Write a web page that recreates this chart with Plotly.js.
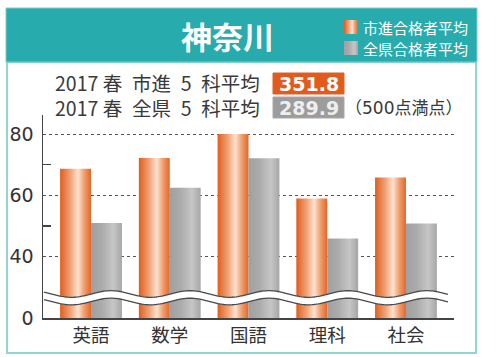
<!DOCTYPE html>
<html>
<head>
<meta charset="utf-8">
<script src="https://cdn.plot.ly/plotly-3.0.1.min.js"></script>
<style>
html,body{margin:0;padding:0;background:#fff;}
#chart{width:500px;height:357px;}
</style>
</head>
<body>
<div id="chart"></div>
<script>
// ---- data ----
var categories = ['英語', '数学', '国語', '理科', '社会'];
var shishinAvg = [68.7, 72.2, 80.0, 59.0, 65.8];   // 市進合格者平均
var zenkenAvg  = [51.0, 62.5, 72.1, 45.9, 50.8];   // 全県合格者平均
var seriesNames = ['市進合格者平均', '全県合格者平均'];
var yTickVals = [20, 40, 60, 80];
var yTickText = ['0', '40', '60', '80'];
var minorTickVals = [50, 70];
var titleText = '神奈川';
var totalLabels = ['2017 春\u2002市進\u20025\u2002科平均', '2017 春\u2002全県\u20025\u2002科平均'];
var totalValues = ['351.8', '289.9'];
var fullScore = '（500点満点）';

// ---- geometry helpers (pixel -> paper) ----
var L = 43, R = 454, T = 115, B = 318, W = 500, H = 357;
function px(x) { return (x - L) / (R - L); }
function py(y) { return (B - y) / (B - T); }

var JP = '"Noto Sans CJK JP", "Noto Sans", sans-serif';
var MIX = '"DejaVu Sans", "Noto Sans CJK JP", sans-serif';
var TXT = '#3a3a3a';

var traces = [
  {type: 'bar', x: categories, y: shishinAvg, name: seriesNames[0],
   marker: {color: '#ec7a3c', line: {width: 0}}, showlegend: false, hoverinfo: 'skip'},
  {type: 'bar', x: categories, y: zenkenAvg, name: seriesNames[1],
   marker: {color: '#b2b2b2', line: {width: 0}}, showlegend: false, hoverinfo: 'skip'}
];

var shapes = [];
// body frame
shapes.push({type: 'rect', xref: 'paper', yref: 'paper', layer: 'below',
  x0: px(7), x1: px(476), y0: py(353), y1: py(62),
  fillcolor: '#ffffff', line: {color: '#93d3d5', width: 2}});
// header band
shapes.push({type: 'rect', xref: 'paper', yref: 'paper', layer: 'below',
  x0: px(6), x1: px(477), y0: py(62), y1: py(8),
  fillcolor: '#27abad', line: {color: '#7fcccf', width: 1}});
// legend squares
var legendIdx = shapes.length;
shapes.push({type: 'rect', xref: 'paper', yref: 'paper', layer: 'above',
  x0: px(344), x1: px(358), y0: py(34), y1: py(20),
  fillcolor: '#ec7a3c', line: {width: 0}});
shapes.push({type: 'rect', xref: 'paper', yref: 'paper', layer: 'above',
  x0: px(344), x1: px(358), y0: py(55), y1: py(41),
  fillcolor: '#b2b2b2', line: {width: 0}});
// total value boxes
shapes.push({type: 'rect', xref: 'paper', yref: 'paper', layer: 'above',
  x0: px(273), x1: px(344), y0: py(94), y1: py(73),
  fillcolor: '#e15b1e', line: {color: '#d9602c', width: 1}});
shapes.push({type: 'rect', xref: 'paper', yref: 'paper', layer: 'above',
  x0: px(273), x1: px(344), y0: py(118), y1: py(97),
  fillcolor: '#9c9c9c', line: {color: '#a8a8a8', width: 1}});

// axis-break wave (decoration)
function wavePts(yc, amp, period, phaseX, x0, x1) {
  var pts = [];
  for (var x = x0; x <= x1 + 0.01; x += 2) {
    var y = yc - amp * Math.cos(2 * Math.PI * (x - phaseX) / period);
    pts.push([px(x), py(y)]);
  }
  return pts;
}
var wx0 = 44, wx1 = 449, per = 79, ph = 32, amp = 3.3;
var up = wavePts(294, amp, per, ph, wx0, wx1);
var lo = wavePts(301.5, amp, per, ph, wx0, wx1);
var band = 'M' + up.map(function(p){return p[0] + ',' + p[1];}).join('L') +
  'L' + lo.slice().reverse().map(function(p){return p[0] + ',' + p[1];}).join('L') + 'Z';
shapes.push({type: 'path', xref: 'paper', yref: 'paper', layer: 'above', path: band,
  fillcolor: '#ffffff', line: {width: 0}});
[up, lo].forEach(function(pts) {
  shapes.push({type: 'path', xref: 'paper', yref: 'paper', layer: 'above',
    path: 'M' + pts.map(function(p){return p[0] + ',' + p[1];}).join('L'),
    line: {color: '#4a4a4a', width: 1.3}});
});

var annotations = [
  {text: '<b>' + titleText + '</b>', x: px(227), y: py(36), xref: 'paper', yref: 'paper',
   xanchor: 'center', yanchor: 'middle', showarrow: false,
   font: {family: JP, size: 31, color: '#ffffff'}},
  {text: seriesNames[0], x: px(361), y: py(27), xref: 'paper', yref: 'paper',
   xanchor: 'left', yanchor: 'middle', showarrow: false,
   font: {family: JP, size: 15, color: '#ffffff'}},
  {text: seriesNames[1], x: px(361), y: py(48), xref: 'paper', yref: 'paper',
   xanchor: 'left', yanchor: 'middle', showarrow: false,
   font: {family: JP, size: 15, color: '#ffffff'}},
  {text: totalLabels.join('<br>'), x: px(54), y: py(95), xref: 'paper', yref: 'paper',
   xanchor: 'left', yanchor: 'middle', align: 'left', showarrow: false, borderpad: 0,
   font: {family: JP, size: 19.5, color: TXT}},
  {text: '<b>' + totalValues[0] + '</b>', x: px(308.5), y: py(84), xref: 'paper', yref: 'paper',
   xanchor: 'center', yanchor: 'middle', showarrow: false,
   font: {family: '"DejaVu Sans", sans-serif', size: 19, color: '#ffffff'}},
  {text: '<b>' + totalValues[1] + '</b>', x: px(308.5), y: py(108), xref: 'paper', yref: 'paper',
   xanchor: 'center', yanchor: 'middle', showarrow: false,
   font: {family: '"DejaVu Sans", sans-serif', size: 19, color: '#eeeeee'}},
  {text: fullScore, x: px(343), y: py(108), xref: 'paper', yref: 'paper',
   xanchor: 'left', yanchor: 'middle', showarrow: false,
   font: {family: MIX, size: 17, color: TXT}}
];

var layout = {
  width: W, height: H,
  margin: {l: L, r: W - R, t: T, b: H - B, pad: 0},
  paper_bgcolor: '#ffffff', plot_bgcolor: 'rgba(0,0,0,0)',
  barmode: 'group', bargap: 0.215, bargroupgap: 0,
  showlegend: false,
  xaxis: {
    range: [-0.61, 4.61], showgrid: false, zeroline: false,
    showline: true, linecolor: '#444444', linewidth: 2,
    ticks: '', tickfont: {family: JP, size: 18.5, color: '#333333'},
    fixedrange: true
  },
  yaxis: {
    range: [20, 86.2], tickvals: yTickVals, ticktext: yTickText,
    showgrid: true, gridcolor: '#555555', gridwidth: 1, griddash: 'dot',
    zeroline: false, showline: true, linecolor: '#444444', linewidth: 1.5,
    ticks: '', ticklabelstandoff: 4,
    tickfont: {family: '"DejaVu Sans", sans-serif', size: 19, color: '#333333'},
    minor: {tickvals: minorTickVals, ticks: 'inside', ticklen: 8, tickcolor: '#444444',
            tickwidth: 1.5, showgrid: false},
    fixedrange: true
  },
  shapes: shapes,
  annotations: annotations
};

function addGradient(defs, id, stops) {
  var ns = 'http://www.w3.org/2000/svg';
  var g = document.createElementNS(ns, 'linearGradient');
  g.setAttribute('id', id);
  g.setAttribute('x1', '0'); g.setAttribute('x2', '1');
  g.setAttribute('y1', '0'); g.setAttribute('y2', '0');
  stops.forEach(function(s) {
    var st = document.createElementNS(ns, 'stop');
    st.setAttribute('offset', s[0]);
    st.setAttribute('stop-color', s[1]);
    g.appendChild(st);
  });
  defs.appendChild(g);
}

Plotly.newPlot('chart', traces, layout, {staticPlot: true, displayModeBar: false}).then(function(gd) {
  var svg = gd.querySelector('.main-svg');
  var defs = svg.querySelector('defs');
  if (!defs) { defs = document.createElementNS('http://www.w3.org/2000/svg', 'defs'); svg.insertBefore(defs, svg.firstChild); }
  addGradient(defs, 'gradOrange', [
    ['0', '#e05c1a'], ['0.12', '#e6773e'], ['0.35', '#f1a67c'], ['0.58', '#fde2d0'],
    ['0.78', '#f09f6f'], ['1', '#e46626']]);
  addGradient(defs, 'gradGray', [
    ['0', '#a0a0a0'], ['0.35', '#ababab'], ['0.72', '#c6c6c6'], ['0.9', '#b2b2b2'], ['1', '#a6a6a6']]);
  var traceGs = gd.querySelectorAll('.barlayer .trace');
  traceGs.forEach(function(tg, i) {
    tg.querySelectorAll('.point path').forEach(function(p) {
      p.style.fill = i === 0 ? 'url(#gradOrange)' : 'url(#gradGray)';
    });
  });
  var sp = gd.querySelectorAll('.shapelayer path[data-index]');
  sp.forEach(function(p) {
    var idx = +p.getAttribute('data-index');
    if (idx === legendIdx) p.style.fill = 'url(#gradOrange)';
    if (idx === legendIdx + 1) p.style.fill = 'url(#gradGray)';
  });
});
</script>
</body>
</html>
